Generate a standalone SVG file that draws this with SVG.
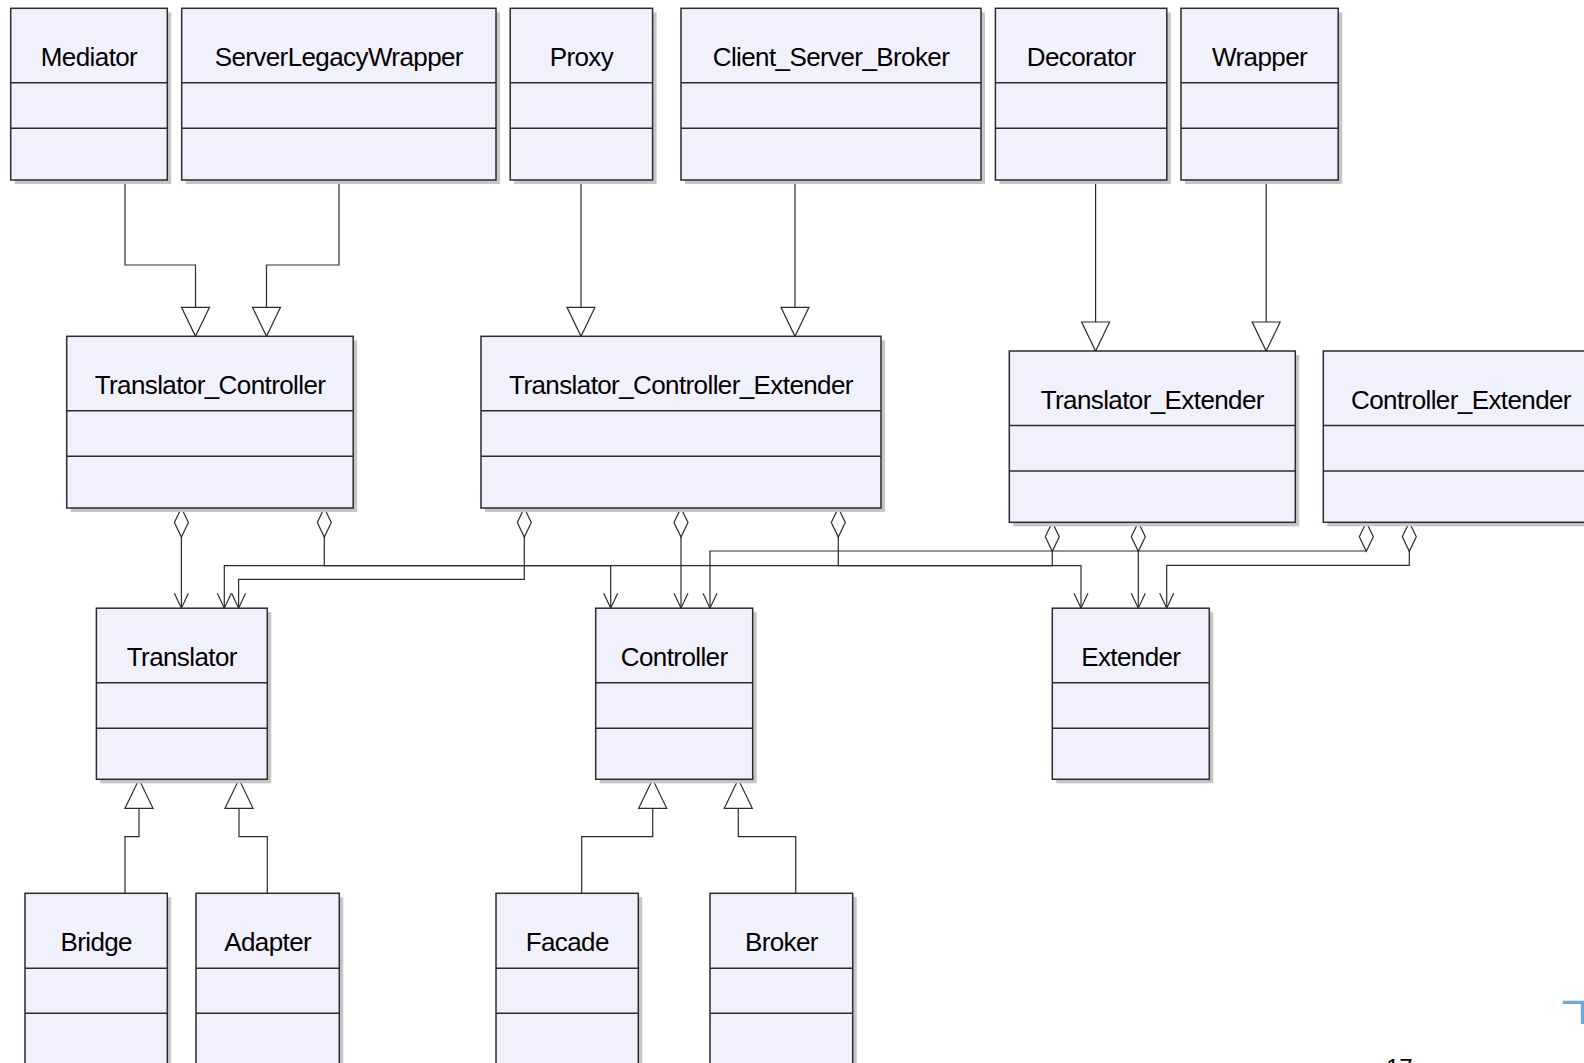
<svg xmlns="http://www.w3.org/2000/svg" width="1584" height="1063" viewBox="0 0 1584 1063">
  <style>
    .shadow { fill: #c6c6c6; }
    .box { fill: #f1f1fd; stroke: #2b2b2b; stroke-width: 1.5; }
    .div { stroke: #2b2b2b; stroke-width: 1.5; }
    .name { font-family: "Liberation Sans", Arial, sans-serif; font-size: 26px; letter-spacing: -0.6px; fill: #000; text-anchor: middle; }
    .conn { fill: none; stroke: #2b2b2b; stroke-width: 1.2; }
    .gen { marker-end: url(#triangle); }
    .agg { marker-start: url(#diamond); marker-end: url(#open-arrow); }
  </style>
  <defs>
    <!-- hollow generalization triangle, tip at path end -->
    <marker id="triangle" markerUnits="userSpaceOnUse" markerWidth="40" markerHeight="40" refX="0" refY="0" orient="auto" overflow="visible">
      <path d="M-29,-14 L0,0 L-29,14 Z" fill="#fff" stroke="#2b2b2b" stroke-width="1.2"/>
    </marker>
    <!-- hollow aggregation diamond at the whole end -->
    <marker id="diamond" markerUnits="userSpaceOnUse" markerWidth="40" markerHeight="40" refX="0" refY="0" orient="auto" overflow="visible">
      <path d="M0,0 L14.5,-7 L29,0 L14.5,7 Z" fill="#fff" stroke="#2b2b2b" stroke-width="1.2"/>
    </marker>
    <!-- open navigability arrow at the part end -->
    <marker id="open-arrow" markerUnits="userSpaceOnUse" markerWidth="40" markerHeight="40" refX="0" refY="0" orient="auto" overflow="visible">
      <path d="M-15,-7 L0,0 L-15,7" fill="none" stroke="#2b2b2b" stroke-width="1.2"/>
    </marker>
  </defs>

  <rect width="1584" height="1063" fill="#fff"/>

  <!-- connectors -->
  <g id="connectors">
    <!-- generalizations, upper -->
    <path class="conn gen" d="M125,180 V265 H195.5 V336.3"/>
    <path class="conn gen" d="M339,180 V265 H266.5 V336.3"/>
    <path class="conn gen" d="M581,180 V336.3"/>
    <path class="conn gen" d="M795,180 V336.3"/>
    <path class="conn gen" d="M1095.6,180 V351"/>
    <path class="conn gen" d="M1266.2,180 V351"/>
    <!-- generalizations, lower -->
    <path class="conn gen" d="M125,893.3 V836.7 H139 V779.3"/>
    <path class="conn gen" d="M267.3,893.3 V836.7 H239 V779.3"/>
    <path class="conn gen" d="M581.7,893.3 V836.7 H652.7 V779.3"/>
    <path class="conn gen" d="M795.7,893.3 V836.7 H738.3 V779.3"/>
    <!-- aggregations -->
    <path class="conn agg" d="M181.4,508 V608.2"/>
    <path class="conn agg" d="M324.3,508 V565.7 H610.7 V608.2"/>
    <path class="conn agg" d="M524.3,508 V579.3 H238.6 V608.2"/>
    <path class="conn agg" d="M681,508 V608.2"/>
    <path class="conn agg" d="M838.3,508 V565.7 H1081 V608.2"/>
    <path class="conn agg" d="M1052.3,522.3 V565.7 H224.3 V608.2"/>
    <path class="conn agg" d="M1138.3,522.3 V608.2"/>
    <path class="conn agg" d="M1366.3,522.3 V551 H710 V608.2"/>
    <path class="conn agg" d="M1409.3,522.3 V565.3 H1166.7 V608.2"/>
  </g>

  <!-- top row -->
  <g id="mediator">
    <rect class="shadow" x="14.7" y="12.3" width="156.6" height="171.7"/>
    <rect class="box" x="10.7" y="8.3" width="156.6" height="171.7"/>
    <line class="div" x1="10.7" y1="82.8" x2="167.3" y2="82.8"/>
    <line class="div" x1="10.7" y1="128.3" x2="167.3" y2="128.3"/>
    <text class="name" x="89" y="65.8">Mediator</text>
  </g>
  <g id="server-legacy-wrapper">
    <rect class="shadow" x="185.7" y="12.3" width="314.3" height="171.7"/>
    <rect class="box" x="181.7" y="8.3" width="314.3" height="171.7"/>
    <line class="div" x1="181.7" y1="82.8" x2="496" y2="82.8"/>
    <line class="div" x1="181.7" y1="128.3" x2="496" y2="128.3"/>
    <text class="name" x="338.8" y="65.8">ServerLegacyWrapper</text>
  </g>
  <g id="proxy">
    <rect class="shadow" x="514.2" y="12.3" width="142.4" height="171.7"/>
    <rect class="box" x="510.2" y="8.3" width="142.4" height="171.7"/>
    <line class="div" x1="510.2" y1="82.8" x2="652.6" y2="82.8"/>
    <line class="div" x1="510.2" y1="128.3" x2="652.6" y2="128.3"/>
    <text class="name" x="581.4" y="65.8">Proxy</text>
  </g>
  <g id="client-server-broker">
    <rect class="shadow" x="685" y="12.3" width="300" height="171.7"/>
    <rect class="box" x="681" y="8.3" width="300" height="171.7"/>
    <line class="div" x1="681" y1="82.8" x2="981" y2="82.8"/>
    <line class="div" x1="681" y1="128.3" x2="981" y2="128.3"/>
    <text class="name" x="831" y="65.8">Client_Server_Broker</text>
  </g>
  <g id="decorator">
    <rect class="shadow" x="999.4" y="12.3" width="171.4" height="171.7"/>
    <rect class="box" x="995.4" y="8.3" width="171.4" height="171.7"/>
    <line class="div" x1="995.4" y1="82.8" x2="1166.8" y2="82.8"/>
    <line class="div" x1="995.4" y1="128.3" x2="1166.8" y2="128.3"/>
    <text class="name" x="1081.1" y="65.8">Decorator</text>
  </g>
  <g id="wrapper">
    <rect class="shadow" x="1185" y="12.3" width="157.2" height="171.7"/>
    <rect class="box" x="1181" y="8.3" width="157.2" height="171.7"/>
    <line class="div" x1="1181" y1="82.8" x2="1338.2" y2="82.8"/>
    <line class="div" x1="1181" y1="128.3" x2="1338.2" y2="128.3"/>
    <text class="name" x="1259.6" y="65.8">Wrapper</text>
  </g>

  <!-- second row -->
  <g id="translator-controller">
    <rect class="shadow" x="70.7" y="340.3" width="286.5" height="171.7"/>
    <rect class="box" x="66.7" y="336.3" width="286.5" height="171.7"/>
    <line class="div" x1="66.7" y1="410.8" x2="353.2" y2="410.8"/>
    <line class="div" x1="66.7" y1="456.3" x2="353.2" y2="456.3"/>
    <text class="name" x="210" y="393.8">Translator_Controller</text>
  </g>
  <g id="translator-controller-extender">
    <rect class="shadow" x="485" y="340.3" width="400" height="171.7"/>
    <rect class="box" x="481" y="336.3" width="400" height="171.7"/>
    <line class="div" x1="481" y1="410.8" x2="881" y2="410.8"/>
    <line class="div" x1="481" y1="456.3" x2="881" y2="456.3"/>
    <text class="name" x="681" y="393.8">Translator_Controller_Extender</text>
  </g>
  <g id="translator-extender">
    <rect class="shadow" x="1013.3" y="355" width="286" height="171.3"/>
    <rect class="box" x="1009.3" y="351" width="286" height="171.3"/>
    <line class="div" x1="1009.3" y1="425.5" x2="1295.3" y2="425.5"/>
    <line class="div" x1="1009.3" y1="471" x2="1295.3" y2="471"/>
    <text class="name" x="1152.3" y="408.5">Translator_Extender</text>
  </g>
  <g id="controller-extender">
    <rect class="shadow" x="1327.3" y="355" width="280" height="171.3"/>
    <rect class="box" x="1323.3" y="351" width="280" height="171.3"/>
    <line class="div" x1="1323.3" y1="425.5" x2="1603.3" y2="425.5"/>
    <line class="div" x1="1323.3" y1="471" x2="1603.3" y2="471"/>
    <text class="name" x="1461" y="408.5">Controller_Extender</text>
  </g>

  <!-- third row -->
  <g id="translator">
    <rect class="shadow" x="100.4" y="612.2" width="170.9" height="171.1"/>
    <rect class="box" x="96.4" y="608.2" width="170.9" height="171.1"/>
    <line class="div" x1="96.4" y1="682.7" x2="267.3" y2="682.7"/>
    <line class="div" x1="96.4" y1="728.2" x2="267.3" y2="728.2"/>
    <text class="name" x="181.8" y="665.7">Translator</text>
  </g>
  <g id="controller">
    <rect class="shadow" x="599.7" y="612.2" width="157" height="171.1"/>
    <rect class="box" x="595.7" y="608.2" width="157" height="171.1"/>
    <line class="div" x1="595.7" y1="682.7" x2="752.7" y2="682.7"/>
    <line class="div" x1="595.7" y1="728.2" x2="752.7" y2="728.2"/>
    <text class="name" x="674.2" y="665.7">Controller</text>
  </g>
  <g id="extender">
    <rect class="shadow" x="1056.3" y="612.2" width="157" height="171.1"/>
    <rect class="box" x="1052.3" y="608.2" width="157" height="171.1"/>
    <line class="div" x1="1052.3" y1="682.7" x2="1209.3" y2="682.7"/>
    <line class="div" x1="1052.3" y1="728.2" x2="1209.3" y2="728.2"/>
    <text class="name" x="1130.8" y="665.7">Extender</text>
  </g>

  <!-- bottom row -->
  <g id="bridge">
    <rect class="shadow" x="29" y="897.3" width="142.3" height="200"/>
    <rect class="box" x="25" y="893.3" width="142.3" height="200"/>
    <line class="div" x1="25" y1="968.3" x2="167.3" y2="968.3"/>
    <line class="div" x1="25" y1="1013.3" x2="167.3" y2="1013.3"/>
    <text class="name" x="96.2" y="950.8">Bridge</text>
  </g>
  <g id="adapter">
    <rect class="shadow" x="200" y="897.3" width="143.3" height="200"/>
    <rect class="box" x="196" y="893.3" width="143.3" height="200"/>
    <line class="div" x1="196" y1="968.3" x2="339.3" y2="968.3"/>
    <line class="div" x1="196" y1="1013.3" x2="339.3" y2="1013.3"/>
    <text class="name" x="267.7" y="950.8">Adapter</text>
  </g>
  <g id="facade">
    <rect class="shadow" x="500" y="897.3" width="142.3" height="200"/>
    <rect class="box" x="496" y="893.3" width="142.3" height="200"/>
    <line class="div" x1="496" y1="968.3" x2="638.3" y2="968.3"/>
    <line class="div" x1="496" y1="1013.3" x2="638.3" y2="1013.3"/>
    <text class="name" x="567.2" y="950.8">Facade</text>
  </g>
  <g id="broker">
    <rect class="shadow" x="714" y="897.3" width="142.7" height="200"/>
    <rect class="box" x="710" y="893.3" width="142.7" height="200"/>
    <line class="div" x1="710" y1="968.3" x2="852.7" y2="968.3"/>
    <line class="div" x1="710" y1="1013.3" x2="852.7" y2="1013.3"/>
    <text class="name" x="781.4" y="950.8">Broker</text>
  </g>

  <!-- page number and corner mark -->
  <text x="1386" y="1076" font-family="Liberation Sans, Arial, sans-serif" font-size="24" fill="#000">17</text>
  <path d="M1562.7,1002.3 H1582.5 V1024" fill="none" stroke="#6fa8dc" stroke-width="3.3"/>
</svg>
